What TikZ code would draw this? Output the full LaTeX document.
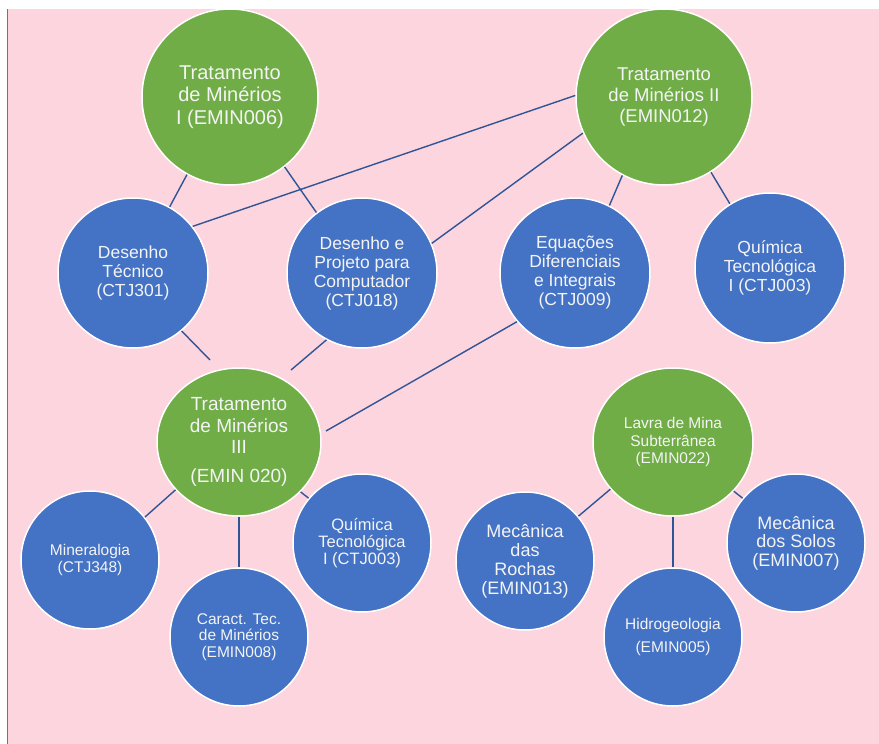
\documentclass[tikz,border=0pt]{standalone}
\usepackage{fontspec}
\setmainfont{Liberation Sans}
\usetikzlibrary{shapes.geometric}
\definecolor{bgpink}{HTML}{FCD5DE}
\definecolor{redline}{HTML}{D5465F}
\definecolor{gfill}{HTML}{70AD47}
\definecolor{bfill}{HTML}{4472C4}
\definecolor{lnk}{HTML}{2F5597}
\definecolor{txt}{HTML}{F4F4F4}
\tikzset{
  bubble/.style={circle, draw=white, line width=1.5pt, inner sep=0pt, text=txt, align=center},
  gcirc/.style={bubble, fill=gfill},
  bcirc/.style={bubble, fill=bfill},
  gell/.style={ellipse, draw=white, line width=1.5pt, inner sep=0pt, text=txt, align=center, fill=gfill},
  link/.style={draw=lnk, line width=1.4pt},
  fA/.style={font=\fontsize{20}{22.5}\selectfont},
  fB/.style={font=\fontsize{18.5}{21}\selectfont},
  fC/.style={font=\fontsize{17.5}{19}\selectfont},
  fD/.style={font=\fontsize{15.5}{16.5}\selectfont},
  fE/.style={font=\fontsize{16.5}{17}\selectfont},
  fF/.style={font=\fontsize{15.5}{17.5}\selectfont},
  fG/.style={font=\fontsize{18}{19}\selectfont},
}
\begin{document}
\begin{tikzpicture}[x=1pt,y=-1pt]
\useasboundingbox (0,0) rectangle (879,744);
\fill[white] (0,0) rectangle (879,744);
\fill[bgpink] (8,9) rectangle (879,744);
\draw[redline, line width=1.5pt] (7.6,9) -- (7.6,744);

% top row
\node[gcirc, fA, minimum size=176pt] (tm1) at (230,97) {Tratamento\\de Minérios\\I (EMIN006)};
\node[gcirc, fB, minimum size=176pt] (tm2) at (664,97) {Tratamento\\de Minérios II\\(EMIN012)};
% second row
\node[bcirc, fC, minimum size=150pt] (dt) at (133,273) {Desenho\\Técnico\\(CTJ301)};
\node[bcirc, fC, minimum size=150pt] (dp) at (362,273) {Desenho e\\Projeto para\\Computador\\(CTJ018)};
\node[bcirc, fC, minimum size=150pt] (eq) at (575,273) {Equações\\Diferenciais\\e Integrais\\(CTJ009)};
\node[bcirc, fC, minimum size=150pt] (qt1) at (770,268) {Química\\Tecnológica\\I (CTJ003)};
% third row
\node[gell, font=\fontsize{19}{21.5}\selectfont, minimum width=164pt, minimum height=148pt] (tm3) at (239,442) {Tratamento\\de Minérios\\III\\[7.5pt](EMIN 020)};
\node[gell, fF, minimum width=160pt, minimum height=148pt] (lv) at (673,442) {Lavra de Mina\\Subterrânea\\(EMIN022)};
% bottom row left
\node[bcirc, fD, minimum size=138pt] (min) at (90,560) {Mineralogia\\(CTJ348)};
\node[bcirc, fD, minimum size=138pt] (ct) at (239,637) {Caract. Tec.\\de Minérios\\(EMIN008)};
\node[bcirc, fE, minimum size=138pt] (qt2) at (362,543) {Química\\Tecnológica\\I (CTJ003)};
% bottom row right
\node[bcirc, fG, minimum size=138pt] (mr) at (525,561) {Mecânica\\das\\Rochas\\(EMIN013)};
\node[bcirc, fD, minimum size=138pt] (hg) at (673,637) {Hidrogeologia\\[6.5pt](EMIN005)};
\node[bcirc, font=\fontsize{18}{18.5}\selectfont, minimum size=138pt] (ms) at (796,543) {Mecânica\\dos Solos\\(EMIN007)};

% free ends near TM III
\coordinate (e1) at (210,360);
\coordinate (e2) at (291,370);
\coordinate (e3) at (326,431);

% connectors
\draw[link] (tm1.-119) -- (dt.61.7);
\draw[link] (tm1.-52.9) -- (dp.127);
\draw[link] (tm2.179.4) -- (dt.38);
\draw[link] (tm2.204.4) -- (dp.23.2);
\draw[link] (tm2.242.5) -- (eq.63.4);
\draw[link] (tm2.-58.5) -- (qt1.122.2);
\draw[link] (dt.-50.7) -- (e1);
\draw[link] (dp.242.4) -- (e2);
\draw[link] (eq.220.5) -- (e3);
\draw[link] (tm3.217.7) -- (min.38.7);
\draw[link] (tm3.south) -- (ct.north);
\draw[link] (tm3.-39.2) -- (qt2.140.7);
\draw[link] (lv.217.3) -- (mr.40.3);
\draw[link] (lv.south) -- (hg.north);
\draw[link] (lv.-39.1) -- (ms.140.2);
\end{tikzpicture}
\end{document}
